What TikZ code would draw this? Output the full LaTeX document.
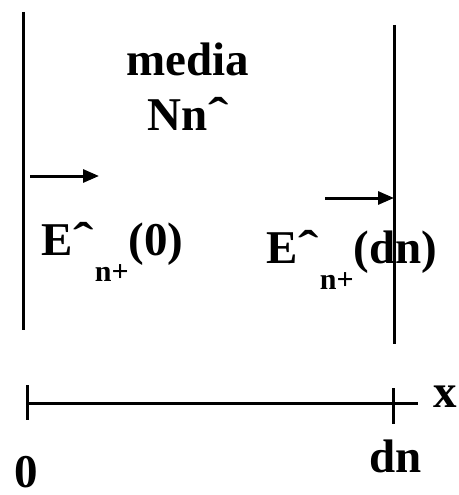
\documentclass[tikz,border=0pt]{standalone}
\usepackage{fontspec}
\setmainfont{Liberation Serif}
\usetikzlibrary{arrows.meta}
\tikzset{
  wall/.style={line width=3pt},
  ray/.style={line width=3pt,-{Triangle[length=16pt,width=13pt]}},
  lbl/.style={anchor=base west,inner sep=0pt,font=\fontsize{47}{47}\selectfont\bfseries},
}
\newcommand{\subn}[1]{{\fontsize{30}{30}\selectfont\raisebox{-26pt}{#1}}}
\newcommand{\hatc}{\kern1pt\scalebox{1.3}[1]{\char"02C6}\kern1pt}
\begin{document}
\begin{tikzpicture}[x=1pt,y=-1pt]
\useasboundingbox (0,0) rectangle (458,495);
% walls
\coordinate (l1) at (23,12);
\coordinate (l2) at (23,330);
\coordinate (r1) at (394,25);
\coordinate (r2) at (394,344);
\draw[wall] (l1) -- (l2);
\draw[wall] (r1) -- (r2);
% arrows
\coordinate (a1) at (30,176);
\coordinate (a2) at (99,176);
\coordinate (b1) at (325,198);
\coordinate (b2) at (394,198);
\draw[ray] (a1) -- (a2);
\draw[ray] (b1) -- (b2);
% axis
\coordinate (x0) at (27,403);
\coordinate (x1) at (418,403);
\coordinate (t0a) at (27,385);
\coordinate (t0b) at (27,420);
\coordinate (t1a) at (393,388);
\coordinate (t1b) at (393,424);
\draw[wall] (x0) -- (x1);
\draw[wall] (t0a) -- (t0b);
\draw[wall] (t1a) -- (t1b);
% labels
\node[lbl] (media) at (126,75) {media};
\node[lbl] (Nn) at (147,130) {Nn\hatc};
\node[lbl] (E0) at (41,255) {E\hatc\subn{n+}(0)};
\node[lbl] (Ed) at (266,263) {E\hatc\subn{n+}(dn)};
\node[lbl] (xl) at (433,407) {x};
\node[lbl] (dn) at (369,472) {dn};
\node[lbl] (zero) at (14,487) {0};
\end{tikzpicture}
\end{document}
